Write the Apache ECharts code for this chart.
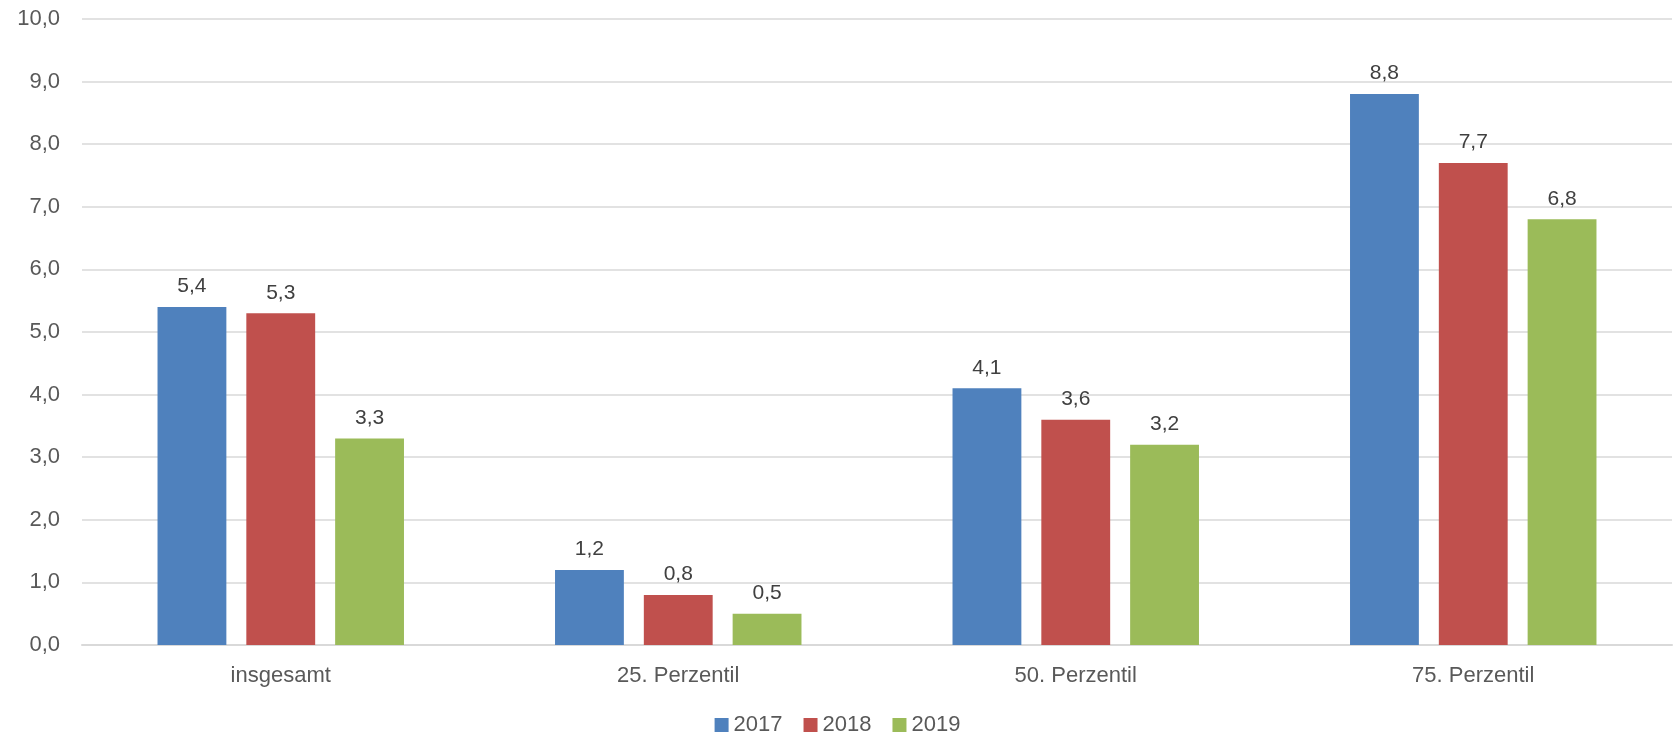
<!DOCTYPE html>
<html><head><meta charset="utf-8">
<script src="https://cdn.jsdelivr.net/npm/echarts@6/dist/echarts.min.js"></script>
<style>html,body{margin:0;padding:0;background:#fff}#c{width:1675px;height:735px}</style>
</head><body><div id="c"></div>
<script>
const categories = ['insgesamt', '25. Perzentil', '50. Perzentil', '75. Perzentil'];
const s2017 = [5.4, 1.2, 4.1, 8.8];
const s2018 = [5.3, 0.8, 3.6, 7.7];
const s2019 = [3.3, 0.5, 3.2, 6.8];
const seriesNames = ['2017', '2018', '2019'];
const colors = ['#4F81BD', '#C0504D', '#9BBB59'];
const fmt = v => v.toFixed(1).replace('.', ',');
const font = 'Liberation Sans';
const chart = echarts.init(document.getElementById('c'));
const mk = (name, data, i) => ({
  name, type: 'bar', data, barGap: '29%', barCategoryGap: '38%',
  itemStyle: { color: colors[i] },
  label: { show: true, position: 'top', distance: 10, color: '#404040', fontSize: 21, fontFamily: font,
           formatter: p => fmt(p.value) }
});
chart.setOption({
  animation: false,
  textStyle: { fontFamily: font },
  color: colors,
  grid: { left: 82, right: 3, top: 19, bottom: 90 },
  legend: { bottom: -1, padding: 0, left: 'center', itemWidth: 14, itemHeight: 14, itemGap: 21, icon: 'rect',
            textStyle: { fontSize: 22, color: '#595959', fontFamily: font } },
  xAxis: { type: 'category', data: categories,
           axisLine: { lineStyle: { color: '#D9D9D9', width: 2 } }, axisTick: { show: false },
           axisLabel: { color: '#595959', fontSize: 22, margin: 20, fontFamily: font } },
  yAxis: { type: 'value', min: 0, max: 10, interval: 1,
           axisLine: { show: false }, axisTick: { show: false },
           splitLine: { lineStyle: { color: '#D9D9D9', width: 1.5 } },
           axisLabel: { color: '#595959', fontSize: 22, margin: 22, fontFamily: font, formatter: v => fmt(v) } },
  series: [mk(seriesNames[0], s2017, 0), mk(seriesNames[1], s2018, 1), mk(seriesNames[2], s2019, 2)]
});
</script></body></html>
